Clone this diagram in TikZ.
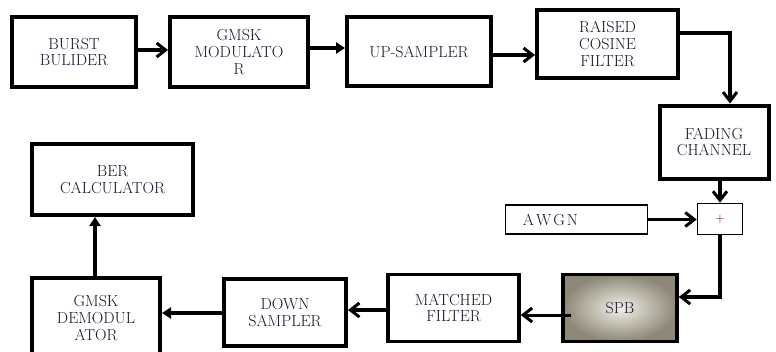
\documentclass[tikz,border=0pt]{standalone}
\usetikzlibrary{arrows.meta}
\definecolor{txt}{RGB}{22,22,45}
\definecolor{spbout}{RGB}{140,135,118}
\definecolor{spbin}{RGB}{242,240,232}
\tikzset{
  blk/.style={draw=black, line width=4pt, fill=white, align=center, text=txt,
    font=\fontsize{16}{16.7}\selectfont, inner sep=0pt},
  thin/.style={draw=black, line width=1.6pt, fill=white, text=txt, inner sep=0pt,
    font=\fontsize{16}{16.7}\selectfont},
  barb/.style={line width=3.5pt, -{Straight Barb[length=9pt,width=14pt,line width=3pt]}},
  tri/.style={line width=3.5pt, -{Triangle[length=9pt,width=11pt]}},
}
\begin{document}
\begin{tikzpicture}[x=1pt,y=-1pt]
\useasboundingbox (0,0) rectangle (776,351);
\clip (0,0) rectangle (776,351);
\node[blk, minimum width=124pt, minimum height=70pt] (burst) at (74,52) {BURST\\BULIDER};
\node[blk, minimum width=138pt, minimum height=70pt] (gmsk) at (239,52) {GMSK\\MODULATO\\R};
\node[blk, minimum width=144pt, minimum height=69pt] (up) at (419,51.5) {UP-SAMPLER};
\node[blk, minimum width=141pt, minimum height=68pt] (rc) at (607.5,44) {RAISED\\COSINE\\FILTER};
\node[blk, minimum width=109pt, minimum height=73pt] (fad) at (714,142) {FADING\\CHANNEL};
\node[thin, minimum width=45pt, minimum height=31pt, text=red!40!black, font=\fontsize{13}{13}\selectfont] (plus) at (720,219) {+};
\node[thin, minimum width=142pt, minimum height=29pt, anchor=center] (awgn) at (576.5,219.5)
  {\hspace*{-52pt}A\hspace{2pt}W\hspace{2pt}G\hspace{2pt}N};
\node[blk, line width=3.5pt, minimum width=114pt, minimum height=67pt, inner color=spbin, outer color=spbout] (spb) at (620,308) {SPB};
\node[blk, line width=3.5pt, minimum width=131pt, minimum height=67pt] (mf) at (453.5,308) {MATCHED\\FILTER};
\node[blk, minimum width=122pt, minimum height=67pt] (down) at (285,312.5) {DOWN\\SAMPLER};
\node[blk, minimum width=128pt, minimum height=80pt] (demod) at (96,318) {GMSK\\DEMODUL\\ATOR};
\node[blk, minimum width=161pt, minimum height=71pt] (ber) at (112.5,179.5) {BER\\CALCULATOR};
\coordinate (spbin) at ([xshift=10pt]spb.west);
\draw[barb] (burst.east |- 0,50) -- (gmsk.west |- 0,50);
\draw[tri] (gmsk.east |- 0,48) -- (up.west |- 0,48);
\draw[barb] (up.east |- 0,55) -- (rc.west |- 0,55);
\draw[barb] (rc.east |- 0,33) -| (fad.north -| 730,0);
\draw[barb] (fad.south -| plus.north) -- (plus.north);
\draw[barb] (awgn.east) -- (awgn.east -| plus.west);
\draw[barb] (plus.south) |- (spb.east |- 0,297);
\draw[barb, line width=3pt] (spbin |- 0,315) -- (mf.east |- 0,315);
\draw[barb] (mf.west |- 0,310) -- (down.east |- 0,310);
\draw[tri] (down.west |- 0,313) -- (demod.east |- 0,313);
\draw[tri] (demod.north -| 95,0) -- (ber.south -| 95,0);
\end{tikzpicture}
\end{document}
